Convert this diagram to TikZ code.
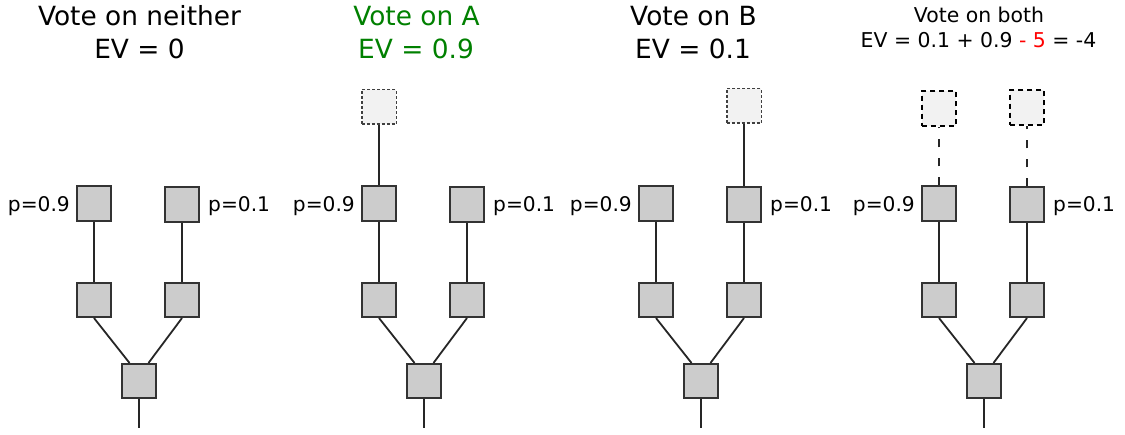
\documentclass[tikz,border=0pt]{standalone}
\usepackage{fontspec}
\setmainfont{DejaVu Sans}
\definecolor{votegreen}{HTML}{008000}
\begin{document}
\begin{tikzpicture}[x=1pt,y=-1pt,
  box/.style={draw=black!80, fill=black!20, line width=1.6pt, minimum size=34.5pt, inner sep=0pt},
  ghost/.style={draw=black!75, fill=black!5, line width=1.5pt, dash pattern=on 3pt off 2pt, minimum size=34.5pt, inner sep=0pt},
  ghostb/.style={draw=black, fill=black!5, line width=1.7pt, dash pattern=on 5pt off 4pt, minimum size=34.5pt, inner sep=0pt},
  edge/.style={line width=1.8pt, draw=black!85},
  title/.style={font=\fontsize{26.4}{33}\selectfont, anchor=base, inner sep=0pt},
  stitle/.style={font=\fontsize{20.4}{25}\selectfont, anchor=base, inner sep=0pt},
  lbl/.style={font=\fontsize{20.2}{24}\selectfont, inner sep=0pt}]
\useasboundingbox (0,0) rectangle (1125,435);

% titles
\node[title] (t1a) at (139.5,26) {Vote on neither};
\node[title] (t1b) at (139.5,59) {EV = 0};
\node[title, text=votegreen] (t2a) at (416.5,26) {Vote on A};
\node[title, text=votegreen] (t2b) at (416,59) {EV = 0.9};
\node[title] (t3a) at (693.5,26) {Vote on B};
\node[title] (t3b) at (693,59) {EV = 0.1};
\node[stitle] (t4a) at (979,23) {Vote on both};
\node[stitle] (t4b) at (978.5,48) {EV = 0.1 + 0.9 {\color{red}- 5} = -4};

% trees
\foreach \o/\n in {0/a,285/b,562/c,845/d}{
  \node[box] (\n-tl) at (\o+94,203.5) {};
  \node[box] (\n-tr) at (\o+182,204.5) {};
  \node[box] (\n-ml) at (\o+94,300) {};
  \node[box] (\n-mr) at (\o+182,300) {};
  \node[box] (\n-b) at (\o+139,381) {};
  \coordinate (\n-end) at (\o+139,428);
  \draw[edge] (\n-tl.south) -- (\n-ml.north);
  \draw[edge] (\n-tr.south) -- (\n-mr.north);
  \draw[edge] (\n-ml.south) -- ([xshift=-9.5pt]\n-b.north);
  \draw[edge] (\n-mr.south) -- ([xshift=9.5pt]\n-b.north);
  \draw[edge] (\n-b.south) -- (\n-end);
  \node[lbl, anchor=base east] (\n-l9) at (\o+70,212) {p=0.9};
  \node[lbl, anchor=base west] (\n-l1) at (\o+208,212) {p=0.1};
}

% ghost boxes
\node[ghost] (b-g) at (379,107) {};
\draw[edge] (b-tl.north) -- (b-g.south);
\node[ghost] (c-g) at (744,106) {};
\draw[edge] (c-tr.north) -- (c-g.south);
\node[ghostb] (d-gl) at (939,108.5) {};
\node[ghostb] (d-gr) at (1027,107.5) {};
\draw[edge, dash pattern=on 8pt off 11pt] (d-tl.north) -- (d-gl.south);
\draw[edge, dash pattern=on 8pt off 11pt] (d-tr.north) -- (d-gr.south);
\end{tikzpicture}
\end{document}
